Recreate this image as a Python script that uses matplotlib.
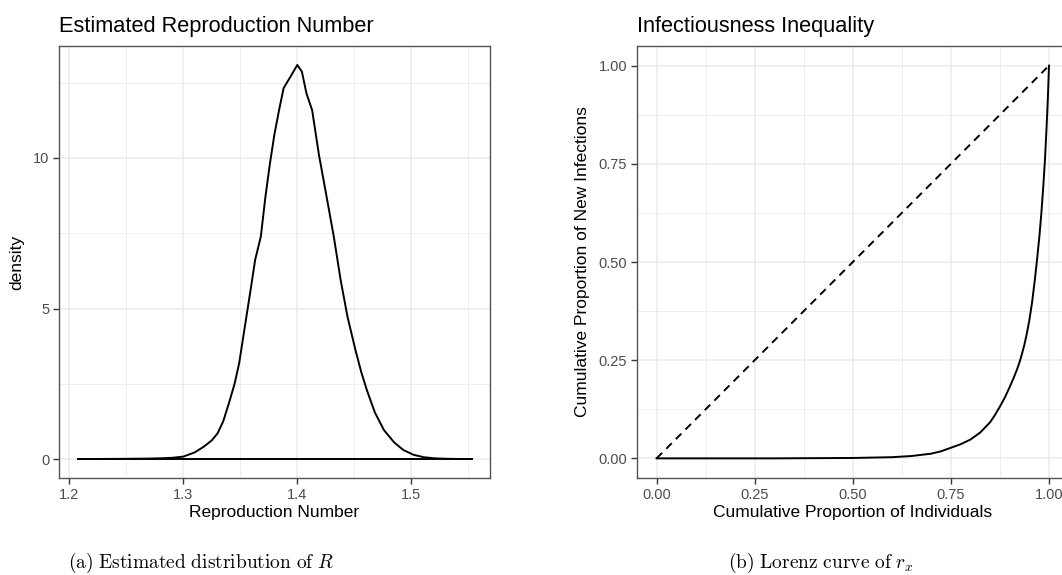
import numpy as np
from matplotlib import pyplot as plt
from matplotlib.ticker import MultipleLocator

plt.rcParams['font.family'] = ['Liberation Sans', 'DejaVu Sans']
plt.rcParams['mathtext.fontset'] = 'cm'

# density of R (outline)
r_x = [1.208, 1.23, 1.25, 1.27, 1.28, 1.29, 1.300, 1.310, 1.318, 1.325, 1.330, 1.335,
       1.340, 1.345, 1.349, 1.354, 1.359, 1.363, 1.368, 1.372, 1.376, 1.380, 1.384,
       1.388, 1.394, 1.400, 1.404, 1.408, 1.413, 1.419, 1.426, 1.432, 1.438, 1.444,
       1.451, 1.456, 1.461, 1.468, 1.476, 1.485, 1.493, 1.502, 1.511, 1.520, 1.530,
       1.540, 1.553]
r_y = [0.0, 0.003, 0.008, 0.015, 0.025, 0.04, 0.08, 0.22, 0.41, 0.62, 0.85, 1.25,
       1.85, 2.50, 3.18, 4.40, 5.61, 6.61, 7.39, 8.70, 9.82, 10.80, 11.59,
       12.32, 12.70, 13.09, 12.87, 12.15, 11.59, 10.10, 8.65, 7.39, 5.95, 4.73,
       3.62, 2.90, 2.29, 1.55, 0.96, 0.55, 0.30, 0.14, 0.06, 0.025, 0.01,
       0.003, 0.0]

# Lorenz curve
lz_x = [0.0, 0.30, 0.50, 0.55, 0.60, 0.65, 0.70, 0.725, 0.75, 0.775, 0.80, 0.825,
        0.85, 0.862, 0.875, 0.888, 0.90, 0.91, 0.918, 0.925, 0.930, 0.937, 0.943,
        0.950, 0.957, 0.964, 0.970, 0.976, 0.981, 0.986, 0.990, 0.993, 0.996, 0.998,
        1.0]
lz_y = [0.0, 0.0, 0.001, 0.002, 0.003, 0.006, 0.012, 0.018, 0.027, 0.036, 0.048, 0.066,
        0.092, 0.110, 0.132, 0.156, 0.182, 0.205, 0.225, 0.245, 0.262, 0.288, 0.315,
        0.352, 0.398, 0.455, 0.510, 0.570, 0.630, 0.700, 0.765, 0.825, 0.890, 0.940,
        1.0]
eq_x = [0.0, 1.0]
eq_y = [0.0, 1.0]

grid_c = '#EBEBEB'
tick_c = '#4D4D4D'
border_c = '#555555'


def style(ax):
    ax.set_facecolor('white')
    ax.grid(which='major', color=grid_c, lw=1.1)
    ax.grid(which='minor', color=grid_c, lw=0.6)
    ax.set_axisbelow(True)
    for s in ax.spines.values():
        s.set_color(border_c)
        s.set_linewidth(1.0)
    ax.tick_params(which='major', length=4, width=1, color='#333333',
                   labelcolor=tick_c, labelsize=10.5, pad=3)
    ax.tick_params(which='minor', length=0)


fig = plt.figure(figsize=(10.62, 5.75), dpi=100)

ax1 = fig.add_axes([59 / 1062, 1 - 478 / 575, 431 / 1062, 432 / 575])
ax1.plot(r_x, r_y, color='black', lw=1.4)
ax1.plot([r_x[0], r_x[-1]], [0, 0], color='black', lw=1.4)
ax1.set_xlim(1.191, 1.569)
ax1.set_ylim(-0.63, 13.72)
ax1.xaxis.set_minor_locator(MultipleLocator(0.05))
ax1.yaxis.set_minor_locator(MultipleLocator(2.5))
ax1.set_xticks([1.2, 1.3, 1.4, 1.5])
ax1.set_xticklabels(['1.2', '1.3', '1.4', '1.5'])
ax1.set_yticks([0, 5, 10])
ax1.set_yticklabels(['0', '5', '10'])
style(ax1)
ax1.set_xlabel('Reproduction Number', fontsize=12.5, labelpad=2)
ax1.set_ylabel('density', fontsize=12.5, labelpad=6)
ax1.set_title('Estimated Reproduction Number', loc='left', fontsize=15.7, pad=10)

ax2 = fig.add_axes([637 / 1062, 1 - 478 / 575, 431.6 / 1062, 432 / 575])
ax2.plot(eq_x, eq_y, color='black', lw=1.4, dashes=(4, 3))
ax2.plot(lz_x, lz_y, color='black', lw=1.4)
ax2.set_xlim(-0.05, 1.05)
ax2.set_ylim(-0.05, 1.05)
ax2.xaxis.set_minor_locator(MultipleLocator(0.125))
ax2.yaxis.set_minor_locator(MultipleLocator(0.125))
ax2.set_xticks([0, 0.25, 0.5, 0.75, 1.0])
ax2.set_xticklabels(['0.00', '0.25', '0.50', '0.75', '1.00'])
ax2.set_yticks([0, 0.25, 0.5, 0.75, 1.0])
ax2.set_yticklabels(['0.00', '0.25', '0.50', '0.75', '1.00'])
style(ax2)
ax2.set_xlabel('Cumulative Proportion of Individuals', fontsize=12.5, labelpad=2)
ax2.set_ylabel('Cumulative Proportion of New Infections', fontsize=12.5, labelpad=6)
ax2.set_title('Infectiousness Inequality', loc='left', fontsize=15.7, pad=10)

fig.text(201 / 1062, 1 - 563 / 575, r'$\mathrm{(a)\ Estimated\ distribution\ of\ }R$',
         ha='center', va='center', fontsize=14)
fig.text(821 / 1062, 1 - 563 / 575, r'$\mathrm{(b)\ Lorenz\ curve\ of\ }r_x$',
         ha='center', va='center', fontsize=14)

fig.savefig('out.png', dpi=100, facecolor='white')
